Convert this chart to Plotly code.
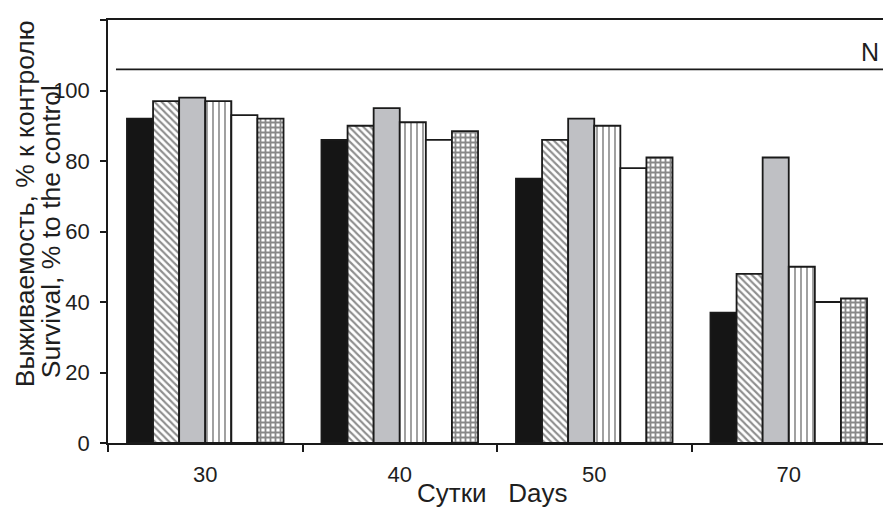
import plotly.graph_objects as go

categories = ["30", "40", "50", "70"]
black_vals = [92, 86, 75, 37]
diag_vals = [97, 90, 86, 48]
gray_vals = [98, 95, 92, 81]
vert_vals = [97, 91, 90, 50]
white_vals = [93, 86, 78, 40]
grid_vals = [92, 88.5, 81, 41]
norm_level = 106
y_ticks = [0, 20, 40, 60, 80, 100, 120]

FONT = "Liberation Sans, Arial, sans-serif"
TXT = "#1e1e1e"
LINE = "#1a1a1a"

# page body has an 8px default margin; figure is offset accordingly
W, H = 883, 500
PL, PR, PT, PB = 100, 3, 12, 65  # plot area: window x 108..888, y 20..443

def px(xw):
    return (xw - 108) / 780

def py(yw):
    return (443 - yw) / 423

series = [
    (black_vals, dict(color="#151515")),
    (diag_vals, dict(color="white", pattern=dict(shape="\\", fgcolor="#1e1e1e", bgcolor="white", size=5, solidity=0.42))),
    (gray_vals, dict(color="#bfc0c4")),
    (vert_vals, dict(color="white", pattern=dict(shape="|", fgcolor="#1e1e1e", bgcolor="white", size=6, solidity=0.28))),
    (white_vals, dict(color="white")),
    (grid_vals, dict(color="white", pattern=dict(shape="+", fgcolor="#111111", bgcolor="white", size=5, solidity=0.6))),
]

fig = go.Figure()
for vals, mk in series:
    mk = dict(mk)
    mk["line"] = dict(color=LINE, width=1.8)
    fig.add_trace(go.Bar(x=categories, y=vals, marker=mk, showlegend=False))

fig.update_layout(
    width=W, height=H,
    margin=dict(l=PL, r=PR, t=PT, b=PB),
    paper_bgcolor="white", plot_bgcolor="white",
    barmode="group", bargap=0.195, bargroupgap=0,
    font=dict(family=FONT, size=22, color=TXT),
)
fig.update_xaxes(
    type="category", showline=True, linecolor=LINE, linewidth=1.5, mirror=True,
    ticks="outside", tickson="boundaries", ticklen=7, tickcolor=LINE, tickwidth=1.5,
    showgrid=False, tickfont=dict(size=22, color=TXT), ticklabelstandoff=11,
)
fig.update_yaxes(
    range=[0, 120], tickvals=y_ticks, showline=True, linecolor=LINE, linewidth=1.5, mirror=True,
    ticks="outside", ticklen=6, tickcolor=LINE, tickwidth=1.5, showgrid=False, zeroline=False,
    tickfont=dict(size=22, color=TXT), ticklabelstandoff=6,
)

fig.add_shape(type="line", xref="paper", yref="y", x0=px(116), x1=1, y0=norm_level, y1=norm_level,
              line=dict(color=LINE, width=1.8))
fig.add_annotation(text="N", xref="paper", yref="paper", x=px(872), y=py(52),
                   showarrow=False, font=dict(size=25, color=TXT), xanchor="center", yanchor="middle")

fig.add_annotation(text="Выживаемость, % к контролю", xref="paper", yref="paper",
                   x=px(25), y=py(204), textangle=-90, showarrow=False,
                   font=dict(size=26.5, color=TXT), xanchor="center", yanchor="middle")
fig.add_annotation(text="Survival, % to the control", xref="paper", yref="paper",
                   x=px(51), y=py(232), textangle=-90, showarrow=False,
                   font=dict(size=26.5, color=TXT), xanchor="center", yanchor="middle")
fig.add_annotation(text="Сутки   Days", xref="paper", yref="paper",
                   x=px(493), y=py(493), showarrow=False,
                   font=dict(size=26, color=TXT), xanchor="center", yanchor="middle")

fig.write_html("out.html")
